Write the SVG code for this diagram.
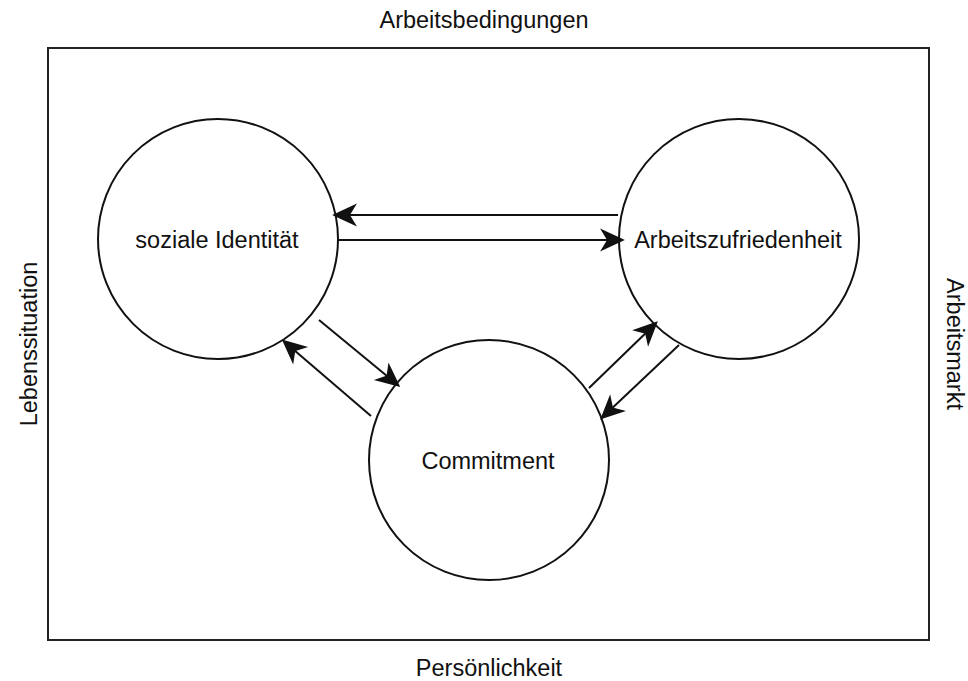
<svg xmlns="http://www.w3.org/2000/svg" width="968" height="681" viewBox="0 0 968 681">
  <style>
    .lbl { font-family: "Liberation Sans", Arial, Helvetica, sans-serif; font-size: 23.5px; fill: #111; text-anchor: middle; }
    .node { fill: #ffffff; stroke: #111; stroke-width: 2; }
    .frame { fill: #ffffff; stroke: #222; stroke-width: 2; }
    .edge { fill: none; stroke: #111; stroke-width: 2; marker-end: url(#arrow); }
  </style>
  <defs>
    <marker id="arrow" markerUnits="userSpaceOnUse" orient="auto" refX="0" refY="0" markerWidth="30" markerHeight="30" viewBox="-6 -10 20 20" overflow="visible">
      <path d="M10,0 L-4,-6.5 L0,0 L-4,6.5 Z" fill="#111" stroke="#111" stroke-width="1" stroke-linejoin="miter"/>
    </marker>
  </defs>
  <rect width="968" height="681" fill="#ffffff"/>
  <g id="frame">
    <rect class="frame" x="48" y="48" width="881" height="592"/>
  </g>
  <g id="label-top"><text class="lbl" x="484" y="28">Arbeitsbedingungen</text></g>
  <g id="label-bottom"><text class="lbl" x="489" y="676">Persönlichkeit</text></g>
  <g id="label-left"><text class="lbl" transform="translate(37,344) rotate(-90)" x="0" y="0">Lebenssituation</text></g>
  <g id="label-right"><text class="lbl" transform="translate(947,344) rotate(90)" x="0" y="0">Arbeitsmarkt</text></g>
  <g id="node-soziale">
    <circle class="node" cx="218" cy="239" r="120"/>
    <text class="lbl" x="217" y="248">soziale Identität</text>
  </g>
  <g id="node-arbeitszufriedenheit">
    <circle class="node" cx="739" cy="239" r="120"/>
    <text class="lbl" x="738" y="248">Arbeitszufriedenheit</text>
  </g>
  <g id="node-commitment">
    <circle class="node" cx="489" cy="460" r="120"/>
    <text class="lbl" x="488" y="469">Commitment</text>
  </g>
  <g id="connectors">
    <path class="edge" d="M618,215 L349,215"/>
    <path class="edge" d="M338,240 L608,240"/>
    <path class="edge" d="M319,320 L387.3,376.3"/>
    <path class="edge" d="M371,416 L294.6,350.5"/>
    <path class="edge" d="M589,388 L645.8,333"/>
    <path class="edge" d="M679,345 L612.3,408.1"/>
  </g>
</svg>
